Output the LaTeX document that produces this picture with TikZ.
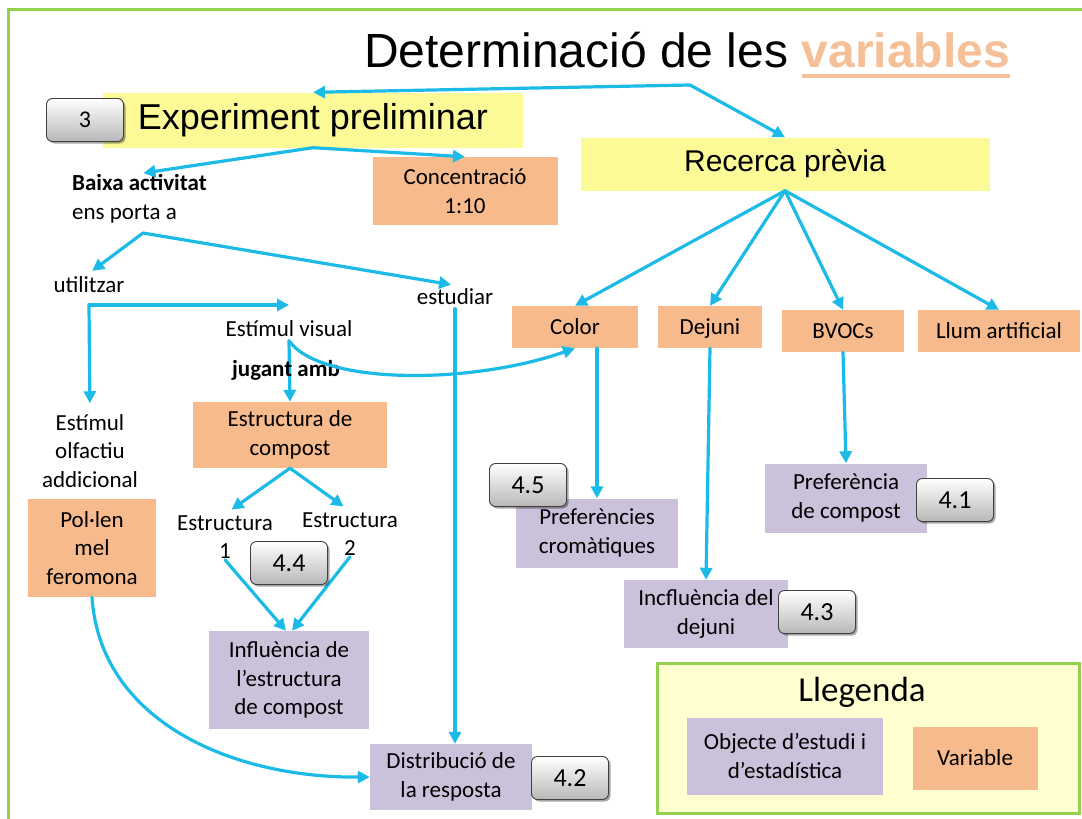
\documentclass[tikz,border=0pt]{standalone}
\usepackage{fontspec}
\setmainfont{Carlito}
\newfontfamily\arialf{Liberation Sans}
\usetikzlibrary{arrows.meta,shadows,calc}
\definecolor{arrowc}{RGB}{28,186,230}
\definecolor{varc}{RGB}{247,186,140}
\definecolor{objc}{RGB}{204,193,219}
\definecolor{ybarc}{RGB}{252,250,150}
\definecolor{legc}{RGB}{255,255,208}
\definecolor{framec}{RGB}{146,208,80}
\definecolor{varcol}{RGB}{245,192,152}
\newcommand\bodyf{\fontsize{23}{28.5}\selectfont}
\newcommand\titlef{\arialf\fontsize{48}{54}\selectfont}
\newcommand\expf{\arialf\fontsize{36}{42}\selectfont}
\newcommand\recf{\arialf\fontsize{30}{36}\selectfont}
\newcommand\legf{\fontsize{35}{40}\selectfont}
\newcommand\btnf{\fontsize{26}{30}\selectfont}
\newcommand\btnsf{\fontsize{24}{28}\selectfont}
\begin{document}
\begin{tikzpicture}[x=1pt,y=-1pt,
  arr/.style={draw=arrowc, line width=3.2pt, line cap=round, -{Triangle[length=12pt,width=12pt]}},
  box/.style={inner sep=0pt, align=center, font=\bodyf},
  var/.style={box, fill=varc},
  obj/.style={box, fill=objc},
  one/.style={text height=18pt, text depth=3pt},
  ybar/.style={inner sep=0pt, fill=ybarc},
  txt/.style={align=center, font=\bodyf, inner sep=1pt},
  btn/.style={rounded corners=6pt, draw=black!75, line width=0.9pt, top color=white, bottom color=black!28,
    minimum width=77pt, minimum height=43pt, inner sep=0pt, font=\btnf,
    drop shadow={shadow xshift=2pt, shadow yshift=-2pt, opacity=0.35, fill=black}}
]
\useasboundingbox (0,0) rectangle (1082,819);
\fill[white] (0,0) rectangle (1082,819);
\begin{scope}
  \clip (0,0) rectangle (1082,819);
  \draw[framec, line width=3pt] (8,9) rectangle (1095,840);
\end{scope}

% title
\node[anchor=base west, inner sep=0pt, font=\titlef] (tdet) at (364,67) {Determinació de les};
\node[anchor=base west, inner sep=0pt, font=\titlef\bfseries, text=varcol] (tvar) at ($(tdet.base east)+(13,0)$) {variables};
\draw[varcol, line width=3.5pt] ($(tvar.base west)+(0,9)$) -- ($(tvar.base east)+(0,9)$);
\coordinate (tb) at (690,85);

% yellow headers
\node[ybar, minimum width=420pt, minimum height=55pt, font=\expf] (exp) at (313,120) {Experiment preliminar};
\node[btn, font=\btnsf] (b3) at (85,120) {3};
\node[ybar, minimum width=409pt, minimum height=53pt, font=\recf] (rec) at (785,164) {Recerca prèvia};

\draw[arr] (tb) -- (exp.north);
\draw[arr] (tb) -- (rec.north);

% left part
\node[txt, anchor=west, align=left] (baixa) at (71,199) {\textbf{Baixa activitat}\\ens porta a};
\node[var, minimum width=185pt, minimum height=68pt] (conc) at (465,191) {Concentració\\1:10};
\draw[arr, shorten >=4pt] (exp.south) -- (baixa.north);
\draw[arr] (exp.south) -- (conc.north);

\coordinate (ea) at (143,233);
\node[txt, one] (util) at (89,285) {utilitzar};
\node[txt, one] (stud) at (455,297) {estudiar};
\draw[arr, shorten >=4pt] (ea) -- (util.north);
\draw[arr, shorten >=4pt] (ea) -- (stud.north);

\node[txt, one] (visual) at (289,329) {Estímul visual};
\node[txt] (olf) at (90,451) {Estímul\\olfactiu\\addicional};
\coordinate (ue) at (89,305);
\draw[arr] (ue) -- (ue -| visual.north);
\draw[arr, shorten >=10pt] (ue) -- (olf.north);

\node[var, minimum width=194pt, minimum height=66pt] (estr) at (290,435) {Estructura de\\compost};
\draw[arr] (visual.south) -- (estr.north);
\node[txt, one, font=\bodyf\bfseries] (jug) at (286,369) {jugant amb};

\node[txt] (e1) at (225,537) {Estructura\\1};
\node[txt] (e2) at (350,534) {Estructura\\2};
\draw[arr, shorten >=8pt] (estr.south) -- (e1.north);
\draw[arr, shorten >=8pt] (estr.south) -- (e2.north);

\node[obj, minimum width=160pt, minimum height=98pt] (infl) at (289,680) {Influència de\\l’estructura\\de compost};
\draw[arr] (e1.south) -- ([xshift=-3pt]infl.north);
\draw[arr] (e2.south) -- ([xshift=3pt]infl.north);
\node[btn] (b44) at (289,563) {4.4};

\node[var, minimum width=128pt, minimum height=98pt] (pol) at (92,548) {Pol·len\\mel\\feromona};
\node[obj, minimum width=162pt, minimum height=66pt] (dist) at (451,777) {Distribució de\\la resposta};
\node[btn] (b42) at (570,778) {4.2};
\draw[arr] (pol.south) .. controls (100,720) and (230,778) .. (dist.west);
\draw[arr] (stud.south) -- (stud.south |- dist.north);

% right part
\node[var, one, minimum width=126pt, minimum height=42pt] (color) at (575,327) {Color};
\node[var, one, minimum width=104pt, minimum height=42pt] (dej) at (710,327) {Dejuni};
\node[var, one, minimum width=122pt, minimum height=42pt] (bvoc) at (843,331) {BVOCs};
\node[var, one, minimum width=162pt, minimum height=42pt] (llum) at (999,331) {Llum artificial};
\foreach \t in {color,dej,bvoc,llum} \draw[arr] (rec.south) -- (\t.north);

\draw[arr] (visual.south) .. controls (320,385) and (470,385) .. (color.south);

\node[obj, minimum width=162pt, minimum height=69pt] (pcrom) at (597,533) {Preferències\\cromàtiques};
\node[obj, minimum width=164pt, minimum height=68pt] (inc) at (706,614) {Incfluència del\\dejuni};
\node[obj, minimum width=162pt, minimum height=69pt] (pcomp) at (846,498) {Preferència\\de compost};
\draw[arr] (color.south -| pcrom.north) -- (pcrom.north);
\draw[arr] (dej.south) -- (inc.north);
\draw[arr] (bvoc.south) -- (pcomp.north);
\node[btn] (b45) at (528,485) {4.5};
\node[btn] (b43) at (817,612) {4.3};
\node[btn] (b41) at (955,500) {4.1};

% legend
\node[draw=framec, line width=3pt, fill=legc, minimum width=422pt, minimum height=150pt] (leg) at (868,738) {};
\node[font=\legf] (legt) at (862,692) {Llegenda};
\node[obj, minimum width=196pt, minimum height=77pt] (lobj) at (785,756) {Objecte d’estudi i\\d’estadística};
\node[var, one, minimum width=125pt, minimum height=63pt] (lvar) at (975,758) {Variable};
\end{tikzpicture}
\end{document}
